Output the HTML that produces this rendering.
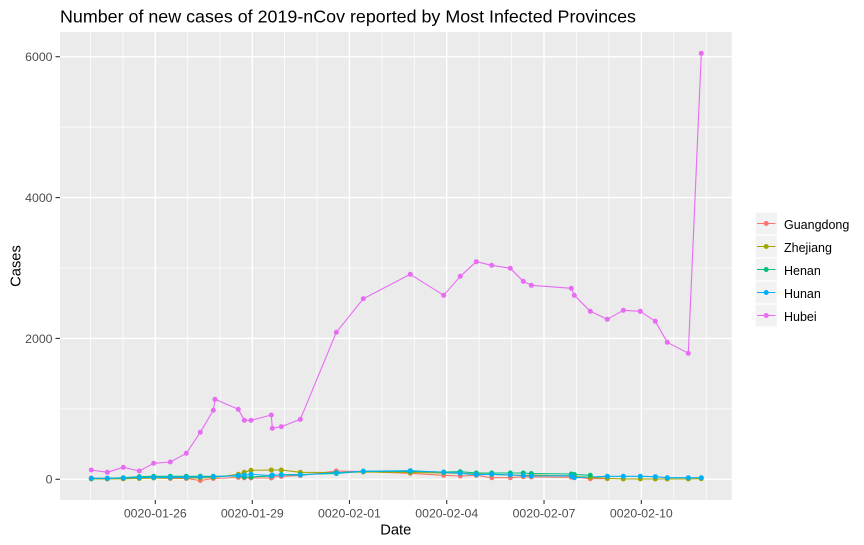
<!DOCTYPE html>
<html><head><meta charset="utf-8"><style>
html,body{margin:0;padding:0;background:#fff;}
svg{display:block;font-family:"Liberation Sans",Arial,sans-serif;}
</style></head><body>
<svg width="864" height="545" viewBox="0 0 864 545" xmlns="http://www.w3.org/2000/svg">
<rect x="0" y="0" width="864" height="545" fill="#fff"/>
<!-- panel -->
<rect x="60" y="32" width="671.7" height="468" fill="#EBEBEB"/>
<g stroke="#fff" fill="none">
  <g stroke-width="0.7">
    <line x1="60" x2="731.7" y1="408.9" y2="408.9"/>
    <line x1="60" x2="731.7" y1="268" y2="268"/>
    <line x1="60" x2="731.7" y1="127.1" y2="127.1"/>
    <line y1="32" y2="500" x1="90.44" x2="90.44"/>
    <line y1="32" y2="500" x1="122.87" x2="122.87"/>
    <line y1="32" y2="500" x1="187.73" x2="187.73"/>
    <line y1="32" y2="500" x1="220.16" x2="220.16"/>
    <line y1="32" y2="500" x1="284.59" x2="284.59"/>
    <line y1="32" y2="500" x1="317.02" x2="317.02"/>
    <line y1="32" y2="500" x1="381.88" x2="381.88"/>
    <line y1="32" y2="500" x1="414.31" x2="414.31"/>
    <line y1="32" y2="500" x1="479.17" x2="479.17"/>
    <line y1="32" y2="500" x1="511.6" x2="511.6"/>
    <line y1="32" y2="500" x1="576.46" x2="576.46"/>
    <line y1="32" y2="500" x1="608.89" x2="608.89"/>
    <line y1="32" y2="500" x1="673.75" x2="673.75"/>
    <line y1="32" y2="500" x1="706.18" x2="706.18"/>
  </g>
  <g stroke-width="1.4">
    <line x1="60" x2="731.7" y1="479.3" y2="479.3"/>
    <line x1="60" x2="731.7" y1="338.4" y2="338.4"/>
    <line x1="60" x2="731.7" y1="197.6" y2="197.6"/>
    <line x1="60" x2="731.7" y1="56.7" y2="56.7"/>
    <line y1="32" y2="500" x1="155.3" x2="155.3"/>
    <line y1="32" y2="500" x1="252.3" x2="252.3"/>
    <line y1="32" y2="500" x1="349.45" x2="349.45"/>
    <line y1="32" y2="500" x1="446.74" x2="446.74"/>
    <line y1="32" y2="500" x1="544.03" x2="544.03"/>
    <line y1="32" y2="500" x1="641.32" x2="641.32"/>
  </g>
</g>
<!-- lines -->
<g fill="none" stroke-width="1.1" stroke-linejoin="round">
  <polyline stroke="#F8766D" points="91.3,478 107.3,478.5 123.3,478.3 139.3,478.3 153.7,478 170.3,478.5 186.3,478.5 200.3,480.5 213.3,478.5 238.3,477.5 244.3,477.8 251,478 271.3,478 272.3,477 281.3,476.5 300.3,475.5 336.3,471 363.3,471.5 410.3,473.3 443.7,475.3 460.3,476 476.3,475.3 491.7,477.7 510.3,477.7 523.3,476.7 531.3,477 571.3,477.3 574.3,477 590.3,478.7 607.3,478.7"/>
  <polyline stroke="#A3A500" points="91.3,479 107.3,479 123.3,478.8 139.3,478.5 153.7,478 170.3,478 186.3,478 200.3,478 213.3,477.5 238.3,474.3 244.3,472.3 251,470.3 271.3,470 281.3,470 300.3,472.3 336.3,472.5 363.3,472 410.3,472.5 443.7,473 460.3,473.3 476.3,474 491.7,474.5 510.3,475 523.3,475.5 531.3,475 571.3,476 574.3,476.5 590.3,477.3 607.3,478.3 623.3,479 640.3,479 655.3,479 667.3,479 688.3,479 701.3,478.7"/>
  <polyline stroke="#00BF7D" points="91.3,478.5 107.3,478.3 123.3,477.7 139.3,476.7 153.7,476.3 170.3,476.3 186.3,476.3 200.3,476.3 213.3,476.3 238.3,476 244.3,477 251,477 271.3,476 281.3,474.5 300.3,474.5 336.3,473.5 363.3,471.3 410.3,471.5 443.7,472 460.3,471.7 476.3,473 491.7,473 510.3,473 523.3,473 531.3,473.5 571.3,474 574.3,474.5 590.3,475.3"/>
  <polyline stroke="#00B0F6" points="91.3,478.3 107.3,478.3 123.3,478 139.3,477.5 153.7,477.3 170.3,477.3 186.3,477.3 200.3,477 213.3,476.7 238.3,475.5 244.3,475 251,474.3 271.3,475.7 272.3,475 281.3,475 300.3,475 336.3,472.7 363.3,471.3 410.3,470.7 443.7,472.3 460.3,473.3 476.3,474.7 491.7,474.3 510.3,475 523.3,475.5 531.3,476 571.3,475.7 574.3,477.7 607.3,476.3 623.3,476.3 640.3,476.3 655.3,476.7 667.3,477.7 688.3,477.7 701.3,477.7"/>
  <polyline stroke="#E76BF3" points="91.3,470 107.3,472.3 123.3,467.3 139.3,471 153.7,463.3 170.3,462 186.3,453.3 200.3,432.3 213.3,410.3 215,399.3 238.3,409.3 244.3,420.3 251,420.3 271.3,415 272.3,428.3 281.3,426.7 300.3,419.3 336.3,332.3 363.3,298.7 410.3,274.3 443.7,295.3 460.3,276.3 476.3,261.7 491.7,265.3 510.3,268.3 523.3,281.3 531.3,285.3 571.3,288.3 574.3,295.3 590.3,311.3 607.3,319.3 623.3,310.3 640.3,311.3 655.3,321.3 667.3,342.3 688.3,353.3 701.3,53.3"/>
</g>
<!-- points -->
<g id="pts"></g>
<!-- axes ticks -->
<g stroke="#333" stroke-width="1.1">
  <line x1="55.5" x2="60" y1="479.3" y2="479.3"/>
  <line x1="55.5" x2="60" y1="338.4" y2="338.4"/>
  <line x1="55.5" x2="60" y1="197.6" y2="197.6"/>
  <line x1="55.5" x2="60" y1="56.7" y2="56.7"/>
  <line y1="500" y2="504" x1="155.3" x2="155.3"/>
  <line y1="500" y2="504" x1="252.3" x2="252.3"/>
  <line y1="500" y2="504" x1="349.45" x2="349.45"/>
  <line y1="500" y2="504" x1="446.74" x2="446.74"/>
  <line y1="500" y2="504" x1="544.03" x2="544.03"/>
  <line y1="500" y2="504" x1="641.32" x2="641.32"/>
</g>
<g fill="#4D4D4D" font-size="12.3" text-anchor="end">
  <text x="52.5" y="483.7">0</text>
  <text x="52.5" y="342.8">2000</text>
  <text x="52.5" y="202">4000</text>
  <text x="52.5" y="61.1">6000</text>
</g>
<g fill="#4D4D4D" font-size="12.3" text-anchor="middle">
  <text x="155.3" y="517.5">0020-01-26</text>
  <text x="252.3" y="517.5">0020-01-29</text>
  <text x="349.45" y="517.5">0020-02-01</text>
  <text x="446.74" y="517.5">0020-02-04</text>
  <text x="544.03" y="517.5">0020-02-07</text>
  <text x="641.32" y="517.5">0020-02-10</text>
</g>
<text x="395.8" y="534.5" font-size="14.7" text-anchor="middle" fill="#000">Date</text>
<text transform="translate(20.5,266) rotate(-90)" font-size="14.7" text-anchor="middle" fill="#000">Cases</text>
<text x="60" y="22.5" font-size="17.6" fill="#000" textLength="576" lengthAdjust="spacingAndGlyphs">Number of new cases of 2019-nCov reported by Most Infected Provinces</text>
<!-- legend -->
<g stroke="#fff" stroke-width="1.2" fill="#F2F2F2">
  <rect x="755" y="212" width="22.5" height="23"/>
  <rect x="755" y="235" width="22.5" height="23"/>
  <rect x="755" y="258" width="22.5" height="23"/>
  <rect x="755" y="281" width="22.5" height="23"/>
  <rect x="755" y="304" width="22.5" height="23"/>
</g>
<g stroke-width="1.1">
  <line x1="757" x2="775.5" y1="223.5" y2="223.5" stroke="#F8766D"/>
  <line x1="757" x2="775.5" y1="246.5" y2="246.5" stroke="#A3A500"/>
  <line x1="757" x2="775.5" y1="269.5" y2="269.5" stroke="#00BF7D"/>
  <line x1="757" x2="775.5" y1="292.5" y2="292.5" stroke="#00B0F6"/>
  <line x1="757" x2="775.5" y1="315.5" y2="315.5" stroke="#E76BF3"/>
</g>
<circle cx="766.2" cy="223.5" r="2.5" fill="#F8766D"/>
<circle cx="766.2" cy="246.5" r="2.5" fill="#A3A500"/>
<circle cx="766.2" cy="269.5" r="2.5" fill="#00BF7D"/>
<circle cx="766.2" cy="292.5" r="2.5" fill="#00B0F6"/>
<circle cx="766.2" cy="315.5" r="2.5" fill="#E76BF3"/>
<g font-size="12.5" fill="#000">
  <text x="784" y="229.2">Guangdong</text>
  <text x="784" y="252.2">Zhejiang</text>
  <text x="784" y="275.2">Henan</text>
  <text x="784" y="298.2">Hunan</text>
  <text x="784" y="321.2">Hubei</text>
</g>
<script>
(function(){
  var ns="http://www.w3.org/2000/svg";
  var g=document.getElementById("pts");
  var pls=document.querySelectorAll("polyline");
  pls.forEach(function(p){
    var col=p.getAttribute("stroke");
    p.getAttribute("points").trim().split(/\s+/).forEach(function(pt){
      var a=pt.split(",");
      var c=document.createElementNS(ns,"circle");
      c.setAttribute("cx",a[0]);c.setAttribute("cy",a[1]);
      c.setAttribute("r","2.5");c.setAttribute("fill",col);
      g.appendChild(c);
    });
  });
})();
</script>
</svg>
</body></html>
